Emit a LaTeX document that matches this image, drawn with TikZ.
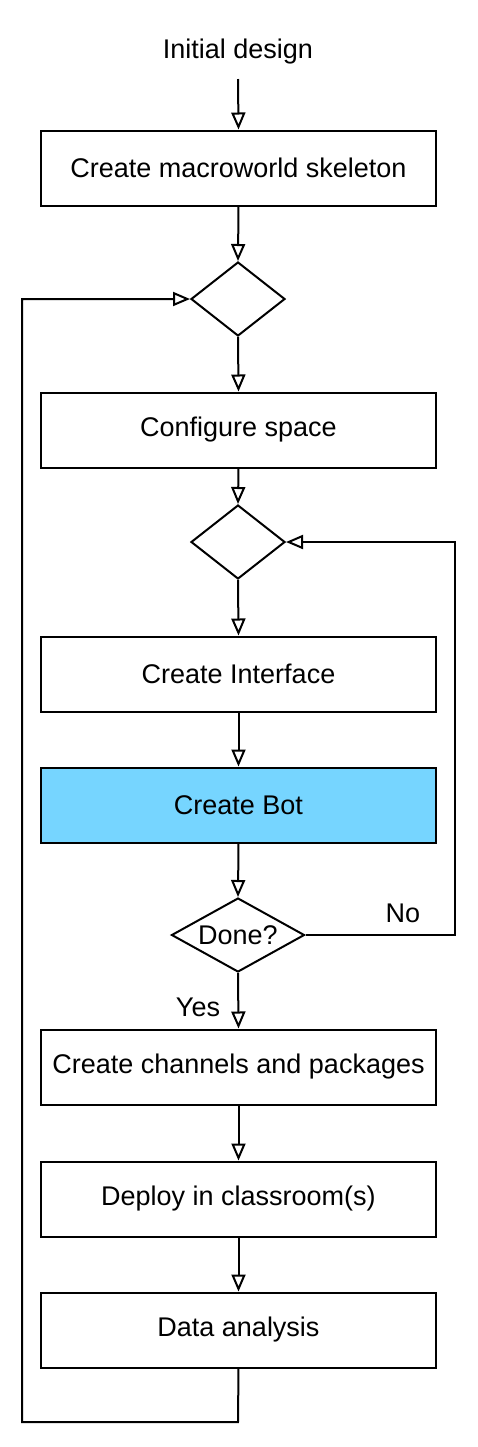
\documentclass[tikz,border=0pt]{standalone}
\usepackage{fontspec}
\setmainfont{Liberation Sans}
\usetikzlibrary{arrows.meta,shapes.geometric}
\definecolor{botblue}{HTML}{76D5FF}
\begin{document}
\begin{tikzpicture}[x=0.5pt,y=-0.5pt,
  every node/.style={font=\fontsize{13.5}{16}\selectfont},
  stepbox/.style={draw,line width=1pt,rectangle,minimum width=197.5pt,minimum height=37.5pt,inner sep=0pt},
  decide/.style={draw,line width=1pt,diamond,inner sep=0pt,minimum width=47pt,minimum height=37pt},
  arr/.style={line width=1pt,-{Triangle[open,length=8.5pt,width=7pt]}},
  plain/.style={line width=1pt}]
\useasboundingbox (0,0) rectangle (477,1447);
\node (init) at (238,52) {Initial design};
\node[stepbox] (b1) at (238.5,168) {Create macroworld skeleton};
\node[decide] (d1) at (238,299) {};
\node[stepbox] (b2) at (238.5,430) {Configure space};
\node[decide] (d2) at (238,542) {};
\node[stepbox] (b3) at (238.5,674) {Create Interface};
\node[stepbox,fill=botblue] (b4) at (238.5,805) {Create Bot};
\node[decide,minimum width=66.5pt,label={center:Done?}] (d3) at (238,935) {};
\node[stepbox] (b5) at (238.5,1067) {Create channels and packages};
\node[stepbox] (b6) at (238.5,1199) {Deploy in classroom(s)};
\node[stepbox] (b7) at (238.5,1330) {Data analysis};
\node (no) at (403,913) {No};
\node (yes) at (198,1007) {Yes};
\coordinate (istart) at (238,79);
\coordinate (l1) at (238,1422);
\coordinate (l2) at (22,1422);
\coordinate (l3) at (22,299);
\coordinate (r1) at (455,935);
\coordinate (r2) at (455,542);
\draw[arr] (istart) -- (b1.north);
\draw[arr] (b1.south) -- (d1.north);
\draw[arr] (d1.south) -- (b2.north);
\draw[arr] (b2.south) -- (d2.north);
\draw[arr] (d2.south) -- (b3.north);
\draw[arr] (b3.south) -- (b4.north);
\draw[arr] (b4.south) -- (d3.north);
\draw[arr] (d3.south) -- (b5.north);
\draw[arr] (b5.south) -- (b6.north);
\draw[arr] (b6.south) -- (b7.north);
\draw[arr] (b7.south) -- (l1) -- (l2) -- (l3) -- (d1.west);
\draw[arr] (d3.east) -- (r1) -- (r2) -- (d2.east);
\end{tikzpicture}
\end{document}
